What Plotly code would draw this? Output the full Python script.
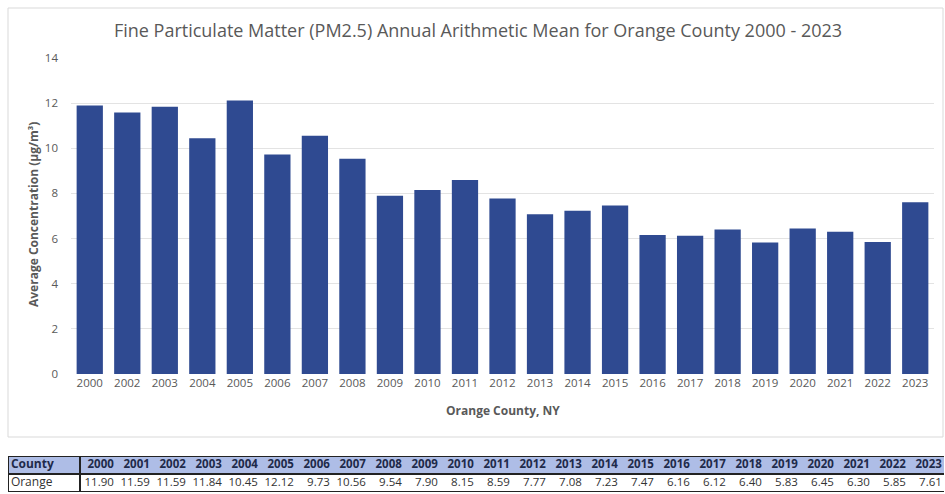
import plotly.graph_objects as go

# ---- chart data (bars as drawn in the chart) ----
bar_years = ["2000", "2002", "2003", "2004", "2005", "2006", "2007", "2008", "2009", "2010",
             "2011", "2012", "2013", "2014", "2015", "2016", "2017", "2018", "2019", "2020",
             "2021", "2022", "2023"]
bar_values = [11.90, 11.59, 11.84, 10.45, 12.12, 9.73, 10.56, 9.54, 7.90, 8.15,
              8.59, 7.77, 7.08, 7.23, 7.47, 6.16, 6.12, 6.40, 5.83, 6.45,
              6.30, 5.85, 7.61]

# ---- table data ----
table_years = ["2000", "2001", "2002", "2003", "2004", "2005", "2006", "2007", "2008", "2009",
               "2010", "2011", "2012", "2013", "2014", "2015", "2016", "2017", "2018", "2019",
               "2020", "2021", "2022", "2023"]
table_values = ["11.90", "11.59", "11.59", "11.84", "10.45", "12.12", "9.73", "10.56", "9.54", "7.90",
                "8.15", "8.59", "7.77", "7.08", "7.23", "7.47", "6.16", "6.12", "6.40", "5.83",
                "6.45", "6.30", "5.85", "7.61"]
county_header = "County"
county_name = "Orange"

W, H = 945, 494
def px(x):
    return x / W
def py(y):
    return (H - y) / H

FONT = "Open Sans"
GRAY = "#595959"
BAR = "#2f4a91"
HDR = "#aebde6"

fig = go.Figure()

fig.add_trace(go.Bar(
    x=bar_years, y=bar_values, marker=dict(color=BAR, line=dict(width=0)),
    xaxis="x", yaxis="y", showlegend=False, hoverinfo="x+y",
))

# ---- table drawn on its own axes: county column = 2 units, each year column = 1 unit ----
tab_left, tab_right = 8, 944
tab_top, tab_mid, tab_bot = 456, 473, 492
first_w = 2
n_units = first_w + len(table_years)
year_right_edges = [first_w + i + 1 for i in range(len(table_years))]
pad = 0.06

fig.add_trace(go.Scatter(
    x=[0.08], y=[1.5], text=["<b>" + county_header + "</b>"], mode="text",
    textposition="middle right", textfont=dict(family=FONT, size=12, color="#1e2a4a"),
    xaxis="x2", yaxis="y2", showlegend=False, hoverinfo="skip", cliponaxis=False,
))
fig.add_trace(go.Scatter(
    x=[0.08], y=[0.5], text=[county_name], mode="text",
    textposition="middle right", textfont=dict(family=FONT, size=12, color="#333333"),
    xaxis="x2", yaxis="y2", showlegend=False, hoverinfo="skip", cliponaxis=False,
))
fig.add_trace(go.Scatter(
    x=[e - pad for e in year_right_edges], y=[1.5] * len(table_years),
    text=["<b>" + y + "</b>" for y in table_years], mode="text",
    textposition="middle left", textfont=dict(family=FONT, size=11.5, color="#1e2a4a"),
    xaxis="x2", yaxis="y2", showlegend=False, hoverinfo="skip", cliponaxis=False,
))
fig.add_trace(go.Scatter(
    x=[e - pad for e in year_right_edges], y=[0.5] * len(table_years),
    text=table_values, mode="text",
    textposition="middle left", textfont=dict(family=FONT, size=11.5, color="#333333"),
    xaxis="x2", yaxis="y2", showlegend=False, hoverinfo="skip", cliponaxis=False,
))

shapes = [
    # chart card border
    dict(type="rect", xref="paper", yref="paper", x0=px(8), x1=px(943), y0=py(437), y1=py(8),
         line=dict(color="#d9d9d9", width=1), layer="below"),
    # header fill
    dict(type="rect", xref="x2", yref="y2", x0=0, x1=n_units + 0.3, y0=1, y1=2,
         fillcolor=HDR, line=dict(width=0), layer="below"),
    # table outer border
    dict(type="rect", xref="x2", yref="y2", x0=0, x1=n_units + 0.3, y0=0, y1=2,
         line=dict(color="#222222", width=2)),
    # header/body separator
    dict(type="line", xref="x2", yref="y2", x0=0, x1=n_units + 0.3, y0=1, y1=1,
         line=dict(color="#222222", width=2)),
    # county column separator
    dict(type="line", xref="x2", yref="y2", x0=first_w, x1=first_w, y0=0, y1=2,
         line=dict(color="#222222", width=2)),
]

annotations = [
    dict(text="<b>Average Concentration (μg/m³)</b>", xref="paper", yref="paper",
         x=px(33), y=py(215), textangle=-90, showarrow=False,
         font=dict(family=FONT, size=12, color=GRAY), xanchor="center", yanchor="middle"),
    dict(text="<b>Orange County, NY</b>", xref="paper", yref="paper",
         x=px(503), y=py(410), showarrow=False,
         font=dict(family=FONT, size=12, color=GRAY), xanchor="center", yanchor="middle"),
]

fig.update_layout(
    width=W, height=H,
    margin=dict(l=0, r=0, t=0, b=0),
    paper_bgcolor="white", plot_bgcolor="white",
    template="none",
    bargap=0.3,
    title=dict(text="Fine Particulate Matter (PM2.5) Annual Arithmetic Mean for Orange County 2000 - 2023",
               x=px(478), y=py(31), xanchor="center", yanchor="middle",
               font=dict(family=FONT, size=18, color=GRAY)),
    xaxis=dict(domain=[px(71), px(934)], type="category", showgrid=False, showline=False,
               ticks="", color=GRAY, tickfont=dict(family=FONT, size=11.5, color=GRAY),
               automargin=False, fixedrange=True),
    yaxis=dict(domain=[py(374), py(58)], range=[0, 14], dtick=2, showgrid=True,
               gridcolor="#e3e3e3", gridwidth=1, zeroline=False, showline=False, ticks="",
               color=GRAY, tickfont=dict(family=FONT, size=11.5, color=GRAY), automargin=False,
               ticklabelstandoff=12, fixedrange=True),
    xaxis2=dict(domain=[px(tab_left), px(tab_right)], range=[0, n_units], visible=False,
                fixedrange=True, anchor="y2"),
    yaxis2=dict(domain=[py(tab_bot), py(tab_top)], range=[0, 2], visible=False,
                fixedrange=True, anchor="x2"),
    shapes=shapes,
    annotations=annotations,
    font=dict(family=FONT, color=GRAY),
)

fig.write_html("out.html", config={"displayModeBar": False},
               post_script="document.body.style.margin='0';document.body.style.overflow='hidden';")
